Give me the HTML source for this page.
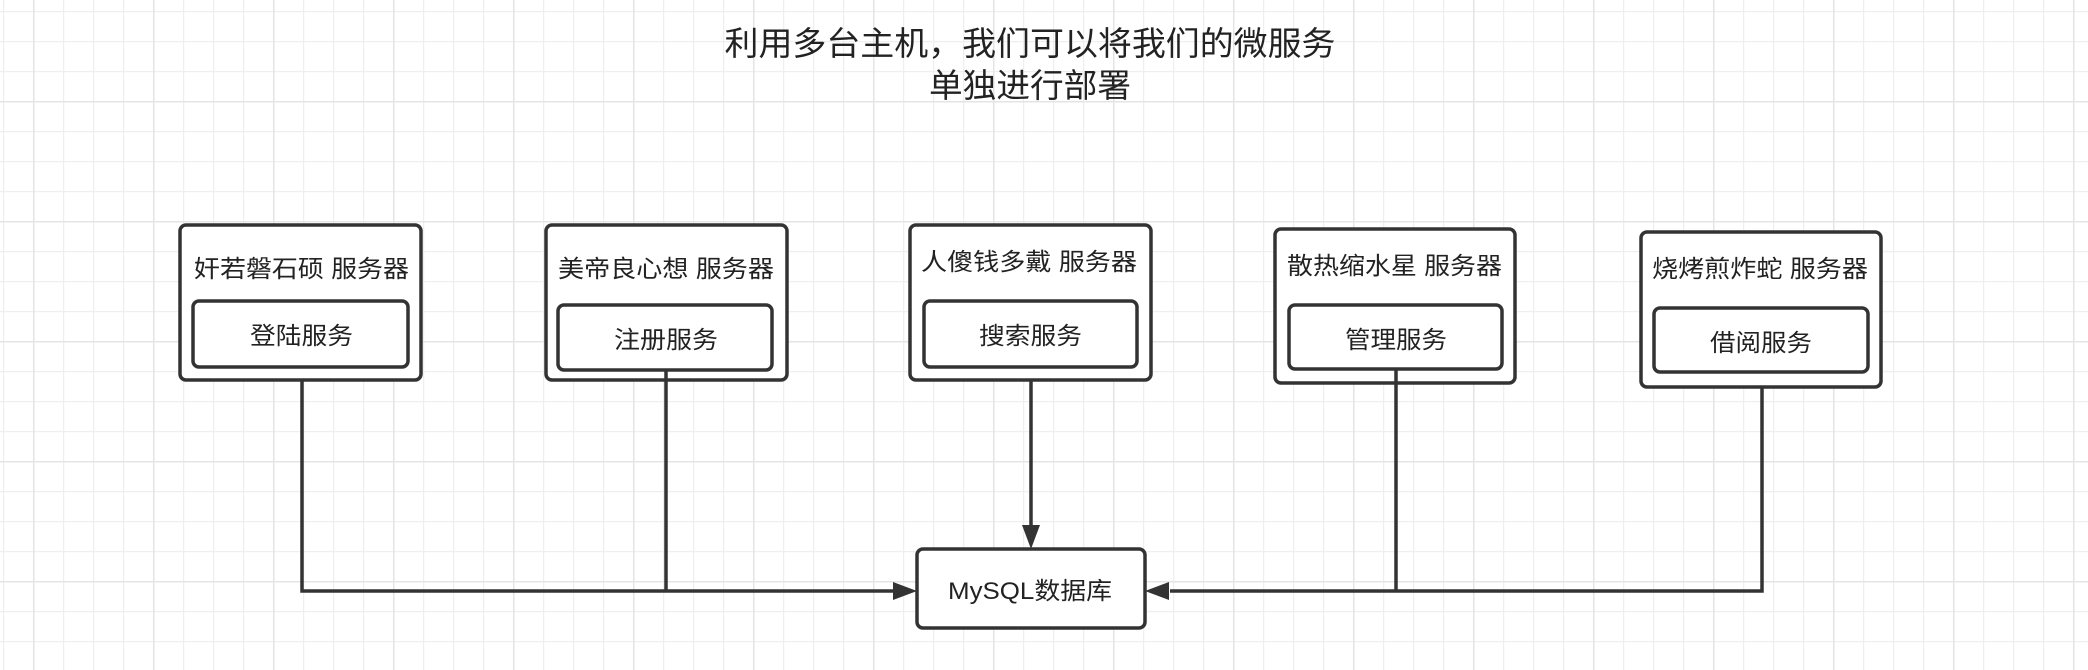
<!DOCTYPE html>
<html><head><meta charset="utf-8"><style>
html,body{margin:0;padding:0;background:#fff;}
svg{display:block;}
text{font-family:"Liberation Sans","Noto Sans CJK SC",sans-serif;fill:#222;}
</style></head><body>
<svg width="2088" height="670" viewBox="0 0 2088 670" xmlns="http://www.w3.org/2000/svg">
<defs>
<pattern id="g" x="3" y="11" width="30" height="30" patternUnits="userSpaceOnUse">
<path d="M0.5 0V30M0 0.5H30" stroke="#efefef" stroke-width="1.5" fill="none"/>
</pattern>
<pattern id="G" x="33" y="-19" width="120" height="120" patternUnits="userSpaceOnUse">
<path d="M0.5 0V120M0 0.5H120" stroke="#e4e4e4" stroke-width="2" fill="none"/>
</pattern>
</defs>
<rect width="2088" height="670" fill="#fff"/>
<rect width="2088" height="670" fill="url(#g)"/>
<rect width="2088" height="670" fill="url(#G)"/>

<text x="1030" y="55" font-size="33" text-anchor="middle" textLength="611" lengthAdjust="spacingAndGlyphs">利用多台主机，我们可以将我们的微服务</text>
<text x="1030" y="97" font-size="33" text-anchor="middle" textLength="202" lengthAdjust="spacingAndGlyphs">单独进行部署</text>

<g fill="none" stroke="#333" stroke-width="3.5">
<!-- connectors -->
<path d="M302 380V591H895"/>
<path d="M666 370V591"/>
<path d="M1031 367V528"/>
<path d="M1762 387V591H1170"/>
<path d="M1396 369V591"/>
</g>
<g fill="#333">
<path d="M917 591L893 582L893 600Z"/>
<path d="M1145 591L1169 582L1169 600Z"/>
<path d="M1031 549L1022 525L1040 525Z"/>
</g>

<g fill="#fff" stroke="#333" stroke-width="3.5">
<rect x="180" y="225" width="241" height="155" rx="6"/>
<rect x="193" y="301" width="215" height="66" rx="6"/>
<rect x="546" y="225" width="241" height="155" rx="6"/>
<rect x="558" y="305" width="214" height="65" rx="6"/>
<rect x="910" y="225" width="241" height="155" rx="6"/>
<rect x="924" y="301" width="213" height="66" rx="6"/>
<rect x="1275" y="229" width="240" height="154" rx="6"/>
<rect x="1289" y="305" width="213" height="64" rx="6"/>
<rect x="1641" y="232" width="240" height="155" rx="6"/>
<rect x="1654" y="308" width="214" height="64" rx="6"/>
<rect x="917" y="549" width="228" height="79" rx="6"/>
</g>
<g stroke="#333" stroke-width="3.5"><path d="M666 370V380M1396 369V383"/></g>

<g font-size="24">
<text x="194" y="277" textLength="215" lengthAdjust="spacingAndGlyphs">奸若磐石硕 服务器</text>
<text x="250" y="344" textLength="103" lengthAdjust="spacingAndGlyphs">登陆服务</text>
<text x="558" y="277" textLength="216" lengthAdjust="spacingAndGlyphs">美帝良心想 服务器</text>
<text x="614" y="348" textLength="104" lengthAdjust="spacingAndGlyphs">注册服务</text>
<text x="921" y="270" textLength="216" lengthAdjust="spacingAndGlyphs">人傻钱多戴 服务器</text>
<text x="979" y="344" textLength="103" lengthAdjust="spacingAndGlyphs">搜索服务</text>
<text x="1287" y="274" textLength="215" lengthAdjust="spacingAndGlyphs">散热缩水星 服务器</text>
<text x="1345" y="348" textLength="102" lengthAdjust="spacingAndGlyphs">管理服务</text>
<text x="1652" y="277" textLength="216" lengthAdjust="spacingAndGlyphs">烧烤煎炸蛇 服务器</text>
<text x="1710" y="351" textLength="102" lengthAdjust="spacingAndGlyphs">借阅服务</text>
<text x="948" y="599" textLength="164" lengthAdjust="spacingAndGlyphs">MySQL数据库</text>
</g>
</svg>
</body></html>
